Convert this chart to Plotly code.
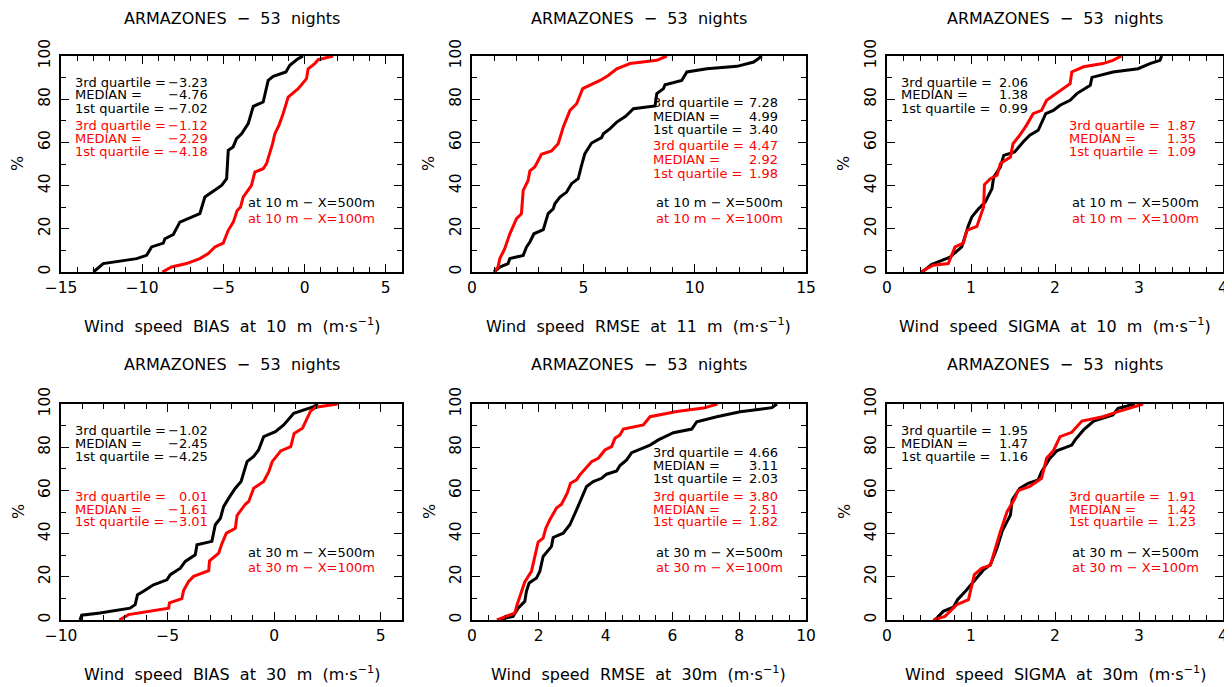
import plotly.graph_objects as go

# ---------------- data ----------------
# Panel 1: BIAS at 10 m
bias10_500_x = [-13.0, -12.4, -10.34, -9.73, -9.42, -8.70, -8.6, -8.09, -7.68, -6.45, -6.14, -5.11, -4.80, -4.70, -4.4, -4.19, -3.88, -3.47, -3.16, -2.55, -2.24, -1.93, -1.15, -0.91, -0.39, -0.09]
bias10_500_y = [0, 3.9, 6.2, 7.7, 11.6, 13.4, 15.4, 17.3, 23.1, 27, 34.7, 40.1, 43.2, 56.3, 57.9, 61.7, 64, 68.7, 76.7, 78.7, 88.7, 90.6, 92.6, 95.7, 98.8, 100]
bias10_100_x = [-8.76, -8.19, -7.27, -6.45, -5.93, -5.52, -5.01, -4.70, -4.39, -4.15, -3.94, -3.78, -3.27, -3.06, -2.55, -2.34, -1.97, -1.83, -1.58, -1.32, -1.01, -0.39, 0.12, 0.22, 0.63, 0.84, 1.76]
bias10_100_y = [0, 2.3, 3.9, 6.2, 8.5, 11.6, 13.4, 19.3, 23.1, 28.5, 30.1, 34.7, 40.1, 46.3, 47.8, 50.2, 59.4, 64, 67.9, 73.3, 81, 84.9, 89.5, 94.1, 96.5, 98.3, 100]

# Panel 2: RMSE at 11 m
rmse10_500_x = [0.99, 1.25, 1.62, 1.70, 2.30, 2.45, 2.6, 2.78, 3.2, 3.42, 3.65, 3.72, 3.95, 4.25, 4.47, 4.77, 4.92, 5.07, 5.37, 5.82, 5.9, 6.2, 6.5, 6.9, 7.25, 8.22, 8.3, 8.6, 8.67, 9.42, 9.65, 10.55, 11.9, 12.65, 13.02]
rmse10_500_y = [0, 2.3, 3.9, 6.2, 7.7, 11.6, 13.9, 17.7, 19.6, 27, 29.3, 31.6, 34.7, 37, 40.9, 43.2, 49.4, 54.8, 59.7, 62.2, 64, 66.4, 69.4, 72.1, 75.6, 76.9, 82.6, 84.9, 86.7, 88.7, 92.6, 94.1, 95.2, 97.2, 100]
rmse10_100_x = [0.99, 1.17, 1.25, 1.47, 1.70, 2.0, 2.22, 2.3, 2.52, 2.6, 2.82, 3.12, 3.57, 3.87, 4.1, 4.4, 4.7, 4.97, 5.75, 6.12, 6.5, 7.1, 8.3, 8.75]
rmse10_100_y = [0, 2.3, 6.2, 10.8, 17.7, 24.7, 27, 37.8, 42.4, 46.8, 48.6, 54.5, 56, 59.4, 67.1, 74.8, 77.9, 84.9, 88.7, 91, 94.1, 96.5, 98, 100]

# Panel 3: SIGMA at 10 m
sig10_500_x = [0.42, 0.53, 0.75, 0.89, 0.97, 1.01, 1.09, 1.17, 1.25, 1.27, 1.35, 1.39, 1.52, 1.62, 1.70, 1.80, 1.89, 1.98, 2.06, 2.18, 2.26, 2.42, 2.44, 2.69, 2.99, 3.13, 3.25, 3.27]
sig10_500_y = [0, 3.5, 6.9, 11.6, 21.6, 25.5, 29.3, 32.4, 38.6, 44, 48.6, 54, 55.6, 60.2, 63.3, 65.6, 73.3, 74.8, 77.2, 79.5, 82.6, 86.4, 90.1, 92.6, 94.1, 96.5, 98, 100]
sig10_100_x = [0.40, 0.55, 0.73, 0.81, 0.91, 0.95, 1.07, 1.11, 1.15, 1.16, 1.23, 1.31, 1.35, 1.47, 1.50, 1.58, 1.66, 1.74, 1.84, 1.90, 1.98, 2.12, 2.18, 2.20, 2.34, 2.57, 2.69, 2.79]
sig10_100_y = [0, 3.1, 3.9, 11.6, 13.4, 19.3, 21.1, 25.5, 30.1, 40.4, 43.2, 44.8, 50.2, 53.2, 59.4, 63.3, 67.9, 73.3, 74.8, 79.5, 81.8, 85.6, 87.2, 92.6, 95, 96.5, 98, 100]

# Panel 4: BIAS at 30 m
bias30_500_x = [-9.11, -9.03, -8.17, -6.76, -6.52, -6.41, -6.13, -5.66, -5.03, -4.87, -4.4, -4.17, -3.7, -3.62, -2.92, -2.76, -2.52, -2.37, -2.13, -1.82, -1.55, -1.27, -0.96, -0.73, -0.49, 0.06, 0.45, 0.92, 1.86, 2.05]
bias30_500_y = [0, 2.2, 3.2, 5.5, 7.1, 11.7, 13.3, 16.3, 18.6, 21, 24, 27.1, 30.2, 34.8, 36.4, 44.1, 47.1, 52.5, 56.4, 61, 64.1, 73.3, 75.7, 78.7, 84.9, 87.2, 90.3, 95.7, 98.8, 100]
bias30_100_x = [-7.26, -6.83, -4.95, -4.91, -4.33, -4.25, -4.01, -3.78, -3.07, -3.03, -2.6, -2.44, -2.24, -1.82, -1.74, -1.35, -1.19, -0.96, -0.49, -0.25, -0.09, 0.31, 0.78, 0.94, 1.33, 1.57, 1.72, 1.96, 2.98]
bias30_100_y = [0, 2.5, 5.5, 7.9, 9.9, 13.6, 17.9, 20.2, 22.8, 27.4, 31, 35.6, 40.2, 42.5, 48.4, 53.6, 54.9, 61, 64.1, 68.7, 73.3, 78.3, 80.3, 86.4, 88.8, 93.4, 96.9, 98.5, 100]

# Panel 5: RMSE at 30 m
rmse30_500_x = [0.75, 1.23, 1.38, 1.58, 1.63, 1.71, 1.93, 2.03, 2.13, 2.38, 2.43, 2.73, 2.93, 3.03, 3.13, 3.28, 3.43, 3.63, 3.88, 4.03, 4.33, 4.43, 4.63, 4.78, 5.33, 5.58, 6.03, 6.58, 6.73, 7.33, 8.03, 8.98, 9.13]
rmse30_500_y = [0, 1.7, 5.5, 8.6, 13.3, 17.1, 19.4, 22.5, 29.4, 34.1, 38.2, 40.2, 44.1, 47.9, 51, 56.4, 61.8, 64.1, 65.6, 67.5, 69, 71.5, 74.1, 77.5, 81, 83.4, 86.7, 88.4, 91.8, 94.1, 96.4, 98.3, 100]
rmse30_100_x = [0.75, 1.28, 1.35, 1.58, 1.78, 1.88, 1.98, 2.13, 2.21, 2.33, 2.53, 2.68, 2.85, 2.95, 3.13, 3.23, 3.43, 3.58, 3.78, 3.98, 4.18, 4.28, 4.43, 4.53, 5.13, 5.33, 6.13, 6.93, 7.35]
rmse30_100_y = [0, 3.2, 7.1, 17.6, 22.5, 28.7, 36.1, 37.9, 42.5, 46.4, 51.8, 53.6, 58.7, 63.3, 64.9, 67.2, 71, 73.3, 74.9, 78.7, 80.3, 84.1, 85.7, 88.4, 90.3, 94.1, 96.5, 98.1, 100]

# Panel 6: SIGMA at 30 m
sig30_500_x = [0.57, 0.67, 0.79, 0.84, 0.95, 1.07, 1.15, 1.23, 1.31, 1.37, 1.43, 1.47, 1.49, 1.58, 1.68, 1.80, 1.84, 1.94, 2.02, 2.20, 2.24, 2.34, 2.46, 2.69, 2.75, 2.95]
sig30_500_y = [0, 4, 5.9, 9.4, 14, 19.4, 23.3, 25.6, 33.3, 41, 45.6, 48.7, 55.6, 61, 63.3, 64.9, 68.7, 74.9, 78.3, 81, 83.4, 88, 92.1, 94.9, 98, 100]
sig30_100_x = [0.55, 0.69, 0.83, 0.97, 1.04, 1.13, 1.23, 1.35, 1.43, 1.52, 1.56, 1.70, 1.84, 1.90, 1.98, 2.06, 2.20, 2.32, 2.57, 2.75, 3.05]
sig30_100_y = [0, 1.7, 7.1, 9.4, 21, 24, 25.3, 41, 50.2, 56.1, 59.9, 61.8, 65.6, 74.9, 78.3, 84.9, 86.9, 92.1, 94.1, 96.5, 100]

titles = ["ARMAZONES  −  53  nights"] * 6
xlabels = [
    "Wind  speed  BIAS  at  10  m  (m·s<sup>−1</sup>)",
    "Wind  speed  RMSE  at  11  m  (m·s<sup>−1</sup>)",
    "Wind  speed  SIGMA  at  10  m  (m·s<sup>−1</sup>)",
    "Wind  speed  BIAS  at  30  m  (m·s<sup>−1</sup>)",
    "Wind  speed  RMSE  at  30m  (m·s<sup>−1</sup>)",
    "Wind  speed  SIGMA  at  30m  (m·s<sup>−1</sup>)",
]
stat_labels = ["3rd quartile =", "MEDIAN =", "1st quartile ="]
stats_500 = [["−3.23", "−4.76", "−7.02"], ["7.28", "4.99", "3.40"], ["2.06", "1.38", "0.99"],
             ["−1.02", "−2.45", "−4.25"], ["4.66", "3.11", "2.03"], ["1.95", "1.47", "1.16"]]
stats_100 = [["−1.12", "−2.29", "−4.18"], ["4.47", "2.92", "1.98"], ["1.87", "1.35", "1.09"],
             ["0.01", "−1.61", "−3.01"], ["3.80", "2.51", "1.82"], ["1.91", "1.42", "1.23"]]
legend_500 = ["at 10 m − X=500m"] * 3 + ["at 30 m − X=500m"] * 3
legend_100 = ["at 10 m − X=100m"] * 3 + ["at 30 m − X=100m"] * 3

curves = [
    (bias10_500_x, bias10_500_y, bias10_100_x, bias10_100_y),
    (rmse10_500_x, rmse10_500_y, rmse10_100_x, rmse10_100_y),
    (sig10_500_x, sig10_500_y, sig10_100_x, sig10_100_y),
    (bias30_500_x, bias30_500_y, bias30_100_x, bias30_100_y),
    (rmse30_500_x, rmse30_500_y, rmse30_100_x, rmse30_100_y),
    (sig30_500_x, sig30_500_y, sig30_100_x, sig30_100_y),
]

# ---------------- layout ----------------
OFF = 8                      # page body margin of the html page
W, H = 1232 - OFF, 687 - OFF
FONT = "DejaVu Sans, Verdana, sans-serif"
cols = [(61, 402), (472, 806), (887, 1223)]
rows = [(56, 272), (404, 620)]
xranges = [[-15, 6], [0, 15], [0, 4], [-10, 6], [0, 10], [0, 4]]
xdticks = [5, 5, 1, 5, 2, 1]
xminor = [1, 1, 0.2, 1, 0.5, 0.2]

# text positions (pixels in the full window)
black_pos = [(75, 209, [82, 95, 108]), (653, 779, [103, 116, 129]), (901, 1029, [82, 95, 108]),
             (75, 209, [430, 443, 456]), (653, 779, [452, 465, 478]), (901, 1029, [430, 443, 456])]
red_pos = [(75, 209, [125, 138, 151]), (653, 779, [146, 159, 173]), (1069, 1197, [125, 138, 151]),
           (75, 209, [496, 509, 521]), (653, 779, [496, 509, 521]), (1069, 1197, [496, 509, 521])]
leg_pos = [(248, [202, 218]), (656, [202, 218]), (1072, [202, 218]),
           (248, [552, 567]), (656, [552, 567]), (1072, [552, 567])]


def px(x):
    return (x - OFF) / W


def py(y):
    return 1 - (y - OFF) / H


def sp(s):
    return s.replace("  ", "\u00a0\u00a0")


fig = go.Figure()
annotations = []
for i in range(6):
    r, c = divmod(i, 3)
    x0, x1 = cols[c]
    y0, y1 = rows[r]
    n = i + 1
    xa = "x" if n == 1 else f"x{n}"
    ya = "y" if n == 1 else f"y{n}"
    bx, by, rx, ry = curves[i]
    fig.add_trace(go.Scatter(x=bx, y=by, mode="lines", line=dict(color="black", width=3),
                             xaxis=xa, yaxis=ya, showlegend=False, hoverinfo="skip"))
    fig.add_trace(go.Scatter(x=rx, y=ry, mode="lines", line=dict(color="#ff0000", width=3),
                             xaxis=xa, yaxis=ya, showlegend=False, hoverinfo="skip"))
    axcommon = dict(showline=True, linecolor="black", linewidth=1.8, mirror="allticks",
                    ticks="inside", ticklen=8, tickwidth=1.4, tickcolor="black",
                    showgrid=False, zeroline=False, automargin=False,
                    tickfont=dict(family=FONT, size=15.5, color="black"))
    fig.layout[f"xaxis{'' if n == 1 else n}"] = dict(
        axcommon, domain=[px(x0), px(x1)], range=xranges[i], anchor=ya,
        tickmode="linear", tick0=0, dtick=xdticks[i],
        minor=dict(ticks="inside", ticklen=5, tickwidth=1.3, tickcolor="black", dtick=xminor[i], tick0=0),
    )
    fig.layout[f"yaxis{'' if n == 1 else n}"] = dict(
        axcommon, domain=[py(y1), py(y0)], range=[0, 100], anchor=xa,
        tickmode="linear", tick0=0, dtick=20, tickangle=-90, ticklabelstandoff=3,
        minor=dict(ticks="inside", ticklen=5, tickwidth=1.3, tickcolor="black", dtick=10, tick0=0),
    )
    cx = (x0 + x1) / 2
    if r == 0:
        annotations.append(dict(text=sp(titles[i]), x=px(cx), y=1.0, xref="paper", yref="paper",
                                showarrow=False, xanchor="center", yanchor="top", borderpad=0,
                                font=dict(family=FONT, size=16, color="black")))
    else:
        annotations.append(dict(text=sp(titles[i]), x=px(cx), y=py(y0 - 40), xref="paper", yref="paper",
                                showarrow=False, xanchor="center", yanchor="middle", borderpad=0,
                                font=dict(family=FONT, size=16, color="black")))
    annotations.append(dict(text=sp(xlabels[i]), x=px(cx), y=py(y1 + 53), xref="paper", yref="paper",
                            showarrow=False, xanchor="center", yanchor="middle", borderpad=0,
                            font=dict(family=FONT, size=16, color="black")))
    annotations.append(dict(text="%", x=px(x0 - 43), y=py((y0 + y1) / 2), xref="paper", yref="paper",
                            showarrow=False, xanchor="center", yanchor="middle", textangle=-90,
                            borderpad=0, font=dict(family=FONT, size=16, color="black")))
    for pos, vals, col in ((black_pos[i], stats_500[i], "black"), (red_pos[i], stats_100[i], "#ff0000")):
        lx, rxp, ys = pos
        for lab, val, yy in zip(stat_labels, vals, ys):
            annotations.append(dict(text=lab, x=px(lx - 1), y=py(yy), xref="paper", yref="paper",
                                    showarrow=False, xanchor="left", yanchor="middle", borderpad=0,
                                    font=dict(family=FONT, size=13, color=col)))
            annotations.append(dict(text=val, x=px(rxp), y=py(yy), xref="paper", yref="paper",
                                    showarrow=False, xanchor="right", yanchor="middle", borderpad=0,
                                    font=dict(family=FONT, size=13, color=col)))
    lx, ys = leg_pos[i]
    for txt, yy, col in ((legend_500[i], ys[0], "black"), (legend_100[i], ys[1], "#ff0000")):
        annotations.append(dict(text=txt, x=px(lx - 1), y=py(yy), xref="paper", yref="paper",
                                showarrow=False, xanchor="left", yanchor="middle", borderpad=0,
                                font=dict(family=FONT, size=13, color=col)))

fig.update_layout(width=W, height=H, margin=dict(l=0, r=0, t=0, b=0),
                  paper_bgcolor="white", plot_bgcolor="white",
                  annotations=annotations, showlegend=False)
fig.write_html("out.html")
